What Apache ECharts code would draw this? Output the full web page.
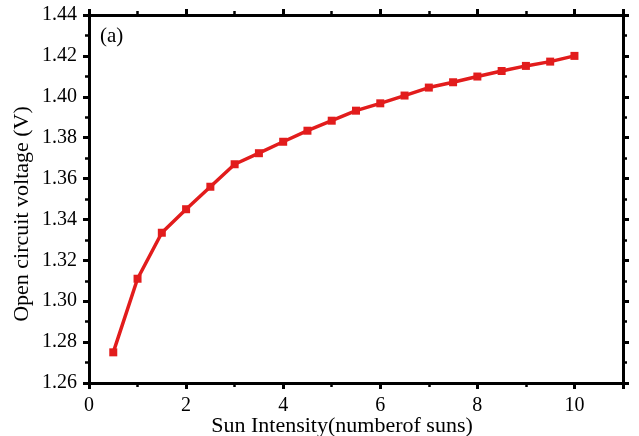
<!DOCTYPE html>
<html>
<head>
<meta charset="utf-8">
<script src="https://cdn.jsdelivr.net/npm/echarts@6/dist/echarts.min.js"></script>
<style>
  html, body { margin: 0; padding: 0; background: #fff; }
  #chart { width: 639px; height: 436px; }
</style>
</head>
<body>
<div id="chart"></div>
<script>
// Sun intensity (number of suns) and measured open circuit voltage (V)
const sunIntensity = [0.5, 1, 1.5, 2, 2.5, 3, 3.5, 4, 4.5, 5, 5.5, 6, 6.5, 7, 7.5, 8, 8.5, 9, 9.5, 10];
const vocValues = [1.275, 1.311, 1.3335, 1.345, 1.356, 1.367, 1.3724, 1.378, 1.3834, 1.3883,
                   1.3932, 1.3968, 1.4006, 1.4045, 1.4071, 1.4099, 1.4126, 1.4151, 1.4172, 1.420];
const xTicks = [0, 2, 4, 6, 8, 10];
const yTicks = [1.26, 1.28, 1.30, 1.32, 1.34, 1.36, 1.38, 1.40, 1.42, 1.44];

const FONT = '"Liberation Serif", "DejaVu Serif", serif';
const lineColor = '#e21c1c';

const axisLine = { show: true, onZero: false, lineStyle: { color: '#000', width: 3 } };
const axisTick = { show: true, inside: false, length: 6, lineStyle: { color: '#000', width: 3 } };
const minorTick = { show: true, splitNumber: 2, length: 4, lineStyle: { color: '#000', width: 2.5 } };

const xBase = {
  type: 'value',
  min: xTicks[0],
  max: 11,
  interval: xTicks[1] - xTicks[0],
  axisLine, axisTick, minorTick,
  splitLine: { show: false }
};
const yBase = {
  type: 'value',
  min: yTicks[0],
  max: yTicks[yTicks.length - 1],
  interval: 0.02,
  axisLine, axisTick, minorTick,
  splitLine: { show: false }
};

const chart = echarts.init(document.getElementById('chart'), null, { renderer: 'canvas' });
chart.setOption({
  animation: false,
  backgroundColor: '#fff',
  grid: { left: 89, right: 16, top: 15, bottom: 53, containLabel: false, outerBoundsMode: 'none' },
  xAxis: [
    Object.assign({}, xBase, {
      position: 'bottom',
      name: 'Sun Intensity(numberof suns)',
      nameLocation: 'middle',
      nameMoveOverlap: false,
      nameGap: 32,
      nameTextStyle: { fontFamily: FONT, fontSize: 22, color: '#000', padding: [0, 28, 0, 0] },
      axisLabel: {
        show: true, margin: 13, fontFamily: FONT, fontSize: 20, color: '#000',
        showMaxLabel: false,
        formatter: v => (xTicks.indexOf(v) >= 0 ? String(v) : '')
      }
    }),
    Object.assign({}, xBase, { position: 'top', axisLabel: { show: false } })
  ],
  yAxis: [
    Object.assign({}, yBase, {
      position: 'left',
      name: 'Open circuit voltage (V)',
      nameLocation: 'middle',
      nameMoveOverlap: false,
      nameGap: 56,
      nameRotate: 90,
      nameTextStyle: { fontFamily: FONT, fontSize: 22, color: '#000', padding: [0, 30, 0, 0] },
      axisLabel: {
        show: true, margin: 12, fontFamily: FONT, fontSize: 20, color: '#000',
        formatter: v => v.toFixed(2)
      }
    }),
    Object.assign({}, yBase, { position: 'right', axisLabel: { show: false } })
  ],
  graphic: [{
    type: 'text',
    left: 100,
    top: 26,
    style: { text: '(a)', fontFamily: FONT, fontSize: 21, fill: '#000' }
  }],
  series: [{
    type: 'line',
    xAxisIndex: 0,
    yAxisIndex: 0,
    data: sunIntensity.map((x, i) => [x, vocValues[i]]),
    symbol: 'rect',
    symbolSize: 8,
    showAllSymbol: true,
    lineStyle: { color: lineColor, width: 3.5 },
    itemStyle: { color: lineColor }
  }]
});
</script>
</body>
</html>
